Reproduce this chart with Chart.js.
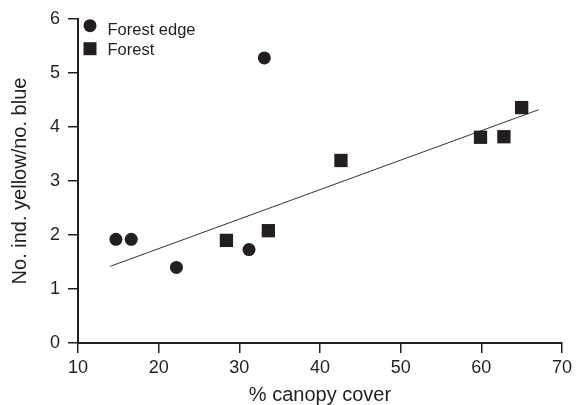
<!DOCTYPE html>
<html>
<head>
<meta charset="utf-8">
<script src="https://cdn.jsdelivr.net/npm/chart.js@4.4.1/dist/chart.umd.min.js"></script>
<style>
  html, body { margin: 0; padding: 0; background: #fff; }
</style>
</head>
<body>
<canvas id="canopyChart" width="576" height="405"></canvas>
<script>
// valores
const edgeX = [14.7, 16.6, 22.2, 31.2, 33.1];
const edgeY = [1.92, 1.92, 1.40, 1.73, 5.28];
const forestX = [28.4, 33.6, 42.6, 59.9, 62.8, 65.0];
const forestY = [1.90, 2.08, 3.38, 3.81, 3.82, 4.36];
const trendX = [14.0, 67.1];
const trendY = [1.42, 4.32];
const xTicks = [10, 20, 30, 40, 50, 60, 70];
const yTicks = [0, 1, 2, 3, 4, 5, 6];

const ink = '#231f20';
const toPoints = (xs, ys) => xs.map((x, i) => ({ x: x, y: ys[i] }));

// legenda desenhada dentro da área do gráfico (canto superior esquerdo)
const insideLegend = {
    id: 'insideLegend',
    afterDraw(chart) {
        const ctx = chart.ctx;
        const rows = [
            { ds: chart.data.datasets[0], cx: 90, cy: 25.7, base: 35 },
            { ds: chart.data.datasets[1], cx: 90, cy: 48.7, base: 55 }
        ];
        ctx.save();
        ctx.fillStyle = ink;
        ctx.font = '16.5px "Liberation Sans", Arial, sans-serif';
        ctx.textBaseline = 'alphabetic';
        ctx.textAlign = 'left';
        rows.forEach(r => {
            ctx.beginPath();
            if (r.ds.pointStyle === 'rect') {
                ctx.rect(r.cx - 6.5, r.cy - 6.5, 13, 13);
            } else {
                ctx.arc(r.cx, r.cy, 6.5, 0, Math.PI * 2);
            }
            ctx.fill();
            ctx.fillText(r.ds.label, 107.5, r.base);
        });
        ctx.restore();
    }
};

const ctx = document.getElementById('canopyChart').getContext('2d');
const canopyChart = new Chart(ctx, {
    type: 'scatter',
    data: {
        datasets: [{
            label: 'Forest edge',
            data: toPoints(edgeX, edgeY),
            pointStyle: 'circle',
            pointRadius: 6.5,
            backgroundColor: ink,
            borderColor: ink,
            borderWidth: 0
        }, {
            label: 'Forest',
            data: toPoints(forestX, forestY),
            pointStyle: 'rect',
            pointRadius: 9.4,
            backgroundColor: ink,
            borderColor: ink,
            borderWidth: 0
        }, {
            type: 'line',
            label: 'trend',
            data: toPoints(trendX, trendY),
            borderColor: '#333',
            borderWidth: 1,
            pointRadius: 0,
            fill: false
        }]
    },
    options: {
        responsive: false,
        animation: false,
        devicePixelRatio: 1,
        layout: {
            padding: { top: 19, right: 13, left: 0, bottom: 0 }
        },
        plugins: {
            legend: { display: false },
            tooltip: { enabled: false }
        },
        scales: {
            x: {
                type: 'linear',
                min: 10,
                max: 70,
                afterFit: s => { s.height = 62; },
                afterBuildTicks: s => { s.ticks = xTicks.map(v => ({ value: v })); },
                grid: {
                    drawOnChartArea: false,
                    drawTicks: true,
                    tickLength: 10,
                    color: ink,
                    lineWidth: 1.5
                },
                border: { display: true, color: ink, width: 2 },
                ticks: {
                    color: ink,
                    padding: 4,
                    maxRotation: 0,
                    font: { family: '"Liberation Sans", Arial, sans-serif', size: 18 }
                },
                title: {
                    display: true,
                    text: '% canopy cover',
                    color: ink,
                    padding: { top: 0, bottom: 0 },
                    font: { family: '"Liberation Sans", Arial, sans-serif', size: 20, lineHeight: 1 }
                }
            },
            y: {
                type: 'linear',
                min: 0,
                max: 6,
                afterFit: s => { s.width = 78; },
                afterBuildTicks: s => { s.ticks = yTicks.map(v => ({ value: v })); },
                grid: {
                    drawOnChartArea: false,
                    drawTicks: true,
                    tickLength: 10,
                    color: ink,
                    lineWidth: 1.5
                },
                border: { display: true, color: ink, width: 2 },
                ticks: {
                    color: ink,
                    padding: 8,
                    font: { family: '"Liberation Sans", Arial, sans-serif', size: 18 }
                },
                title: {
                    display: true,
                    text: 'No. ind. yellow/no. blue',
                    color: ink,
                    padding: { top: 10, bottom: 0 },
                    font: { family: '"Liberation Sans", Arial, sans-serif', size: 20, lineHeight: 1 }
                }
            }
        }
    },
    plugins: [insideLegend]
});
</script>
</body>
</html>
